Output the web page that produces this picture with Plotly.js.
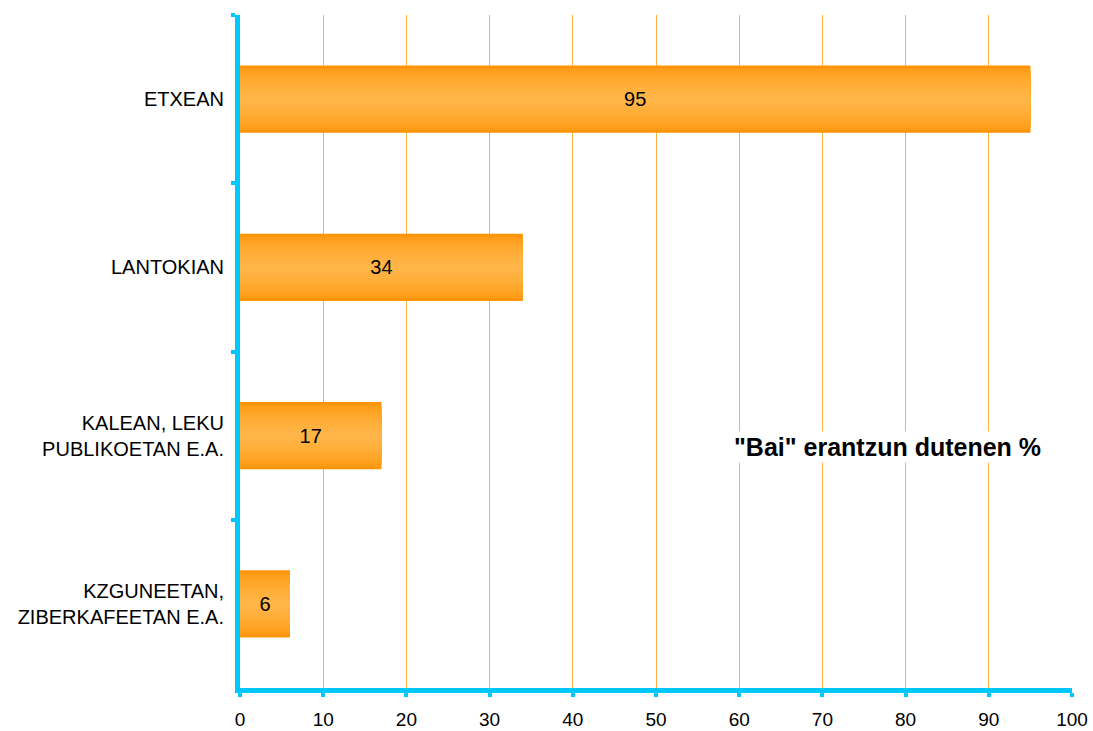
<!DOCTYPE html>
<html>
<head>
<meta charset="utf-8">
<script src="https://cdn.plot.ly/plotly-3.0.1.min.js"></script>
<style>
html,body{margin:0;padding:0;background:#fff;}
#chart{width:1093px;height:731px;}
</style>
</head>
<body>
<div id="chart"></div>
<script>
// ---- data ----
const categories = [
  "ETXEAN",
  "LANTOKIAN",
  "KALEAN, LEKU<br>PUBLIKOETAN E.A.",
  "KZGUNEETAN,<br>ZIBERKAFEETAN E.A."
];
const values = [95, 34, 17, 6];
const valueLabels = ["95", "34", "17", "6"];
const xTickValues = [0, 10, 20, 30, 40, 50, 60, 70, 80, 90, 100];
const noteText = '"Bai" erantzun dutenen %';

// ---- style ----
const FONT = '"Liberation Sans", Arial, sans-serif';
const AXIS_COLOR = '#00C8FF';
const GRID_COLOR = '#FFB240';
const EDGE = [255, 148, 8];
const CENTER = [255, 182, 72];
const BAR_WIDTH = 0.4;
const LAYERS = 12;

function mix(a, b, t) {
  return 'rgb(' + a.map((v, i) => Math.round(v + (b[i] - v) * t)).join(',') + ')';
}

const traces = [];
for (let k = 0; k < LAYERS; k++) {
  const f = k / LAYERS;
  const t = Math.pow(k / (LAYERS - 1), 0.6);
  traces.push({
    type: 'bar',
    orientation: 'h',
    x: values,
    y: categories,
    width: BAR_WIDTH * (1 - f),
    marker: {color: mix(EDGE, CENTER, t), line: {width: 0}},
    hoverinfo: 'skip',
    showlegend: false
  });
}
// label layer
traces.push({
  type: 'bar',
  orientation: 'h',
  x: values,
  y: categories,
  width: BAR_WIDTH,
  marker: {color: 'rgba(0,0,0,0)', line: {width: 0}},
  text: valueLabels,
  textposition: 'inside',
  insidetextanchor: 'middle',
  textangle: 0,
  constraintext: 'none',
  textfont: {family: FONT, size: 20, color: '#000'},
  hoverinfo: 'skip',
  showlegend: false
});

const layout = {
  width: 1093,
  height: 731,
  paper_bgcolor: '#fff',
  plot_bgcolor: '#fff',
  barmode: 'overlay',
  margin: {l: 240, r: 21, t: 15, b: 43},
  font: {family: FONT, color: '#000'},
  xaxis: {
    range: [0, 100],
    tickvals: xTickValues,
    ticktext: xTickValues.map(String),
    showgrid: true,
    gridcolor: GRID_COLOR,
    gridwidth: 1,
    zeroline: false,
    showline: true,
    linecolor: AXIS_COLOR,
    linewidth: 5,
    ticks: 'outside',
    ticklen: 4,
    tickwidth: 4,
    tickcolor: AXIS_COLOR,
    ticklabelstandoff: 6,
    tickfont: {family: FONT, size: 19, color: '#000'},
    fixedrange: true
  },
  yaxis: {
    type: 'category',
    autorange: 'reversed',
    showgrid: false,
    zeroline: false,
    showline: true,
    linecolor: AXIS_COLOR,
    linewidth: 5,
    ticks: 'outside',
    tickson: 'boundaries',
    ticklen: 4,
    tickwidth: 4,
    tickcolor: AXIS_COLOR,
    ticklabelstandoff: 7,
    tickfont: {family: FONT, size: 20, color: '#000'},
    fixedrange: true
  },
  annotations: [{
    xref: 'paper', yref: 'paper',
    x: 0.778, y: 0.358,
    xanchor: 'center', yanchor: 'middle',
    text: '<b>' + noteText + '</b>',
    showarrow: false,
    bgcolor: '#fff',
    font: {family: FONT, size: 25, color: '#000'}
  }]
};

Plotly.newPlot('chart', traces, layout, {displayModeBar: false, staticPlot: true});
</script>
</body>
</html>
